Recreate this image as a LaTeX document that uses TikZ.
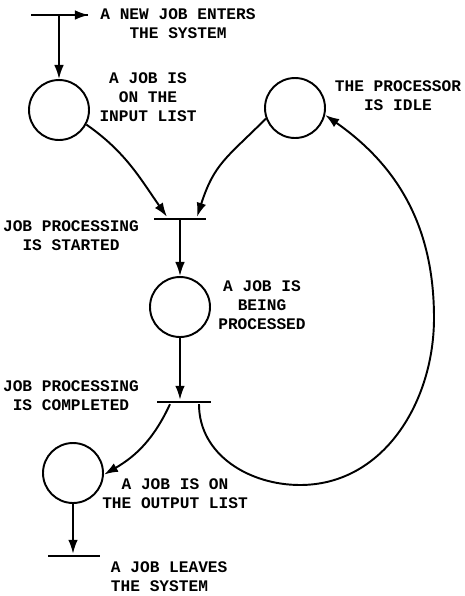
\documentclass[tikz,border=0pt]{standalone}
\usepackage{fontspec}
\setmonofont{Liberation Mono}
\usetikzlibrary{arrows.meta}

\tikzset{
  place/.style={circle, draw, line width=1.1pt, minimum size=1.2cm, inner sep=0pt},
  trans/.style={fill, inner sep=0pt, minimum height=1.4pt, minimum width=#1},
  note/.style={font=\fontsize{9.2}{10.8}\selectfont\ttfamily\bfseries, align=center, inner sep=0pt}
}

\begin{document}
\begin{tikzpicture}[x=0.02cm, y=-0.02cm, >={Latex[length=8pt,width=5.5pt]}, line width=1.1pt]
	\useasboundingbox (0,0) rectangle (465,596);

	% Draw the places
	\node[place] (inlist) at (59,110) {};
	\node[place] (idle) at (295,108) {};
	\node[place] (busy) at (180,307) {};
	\node[place] (outlist) at (73,473) {};

	% Draw the transitions
	\node[trans=1.12cm] (enter) at (60,15) {};
	\node[trans=1.04cm] (start) at (180,219) {};
	\node[trans=1.1cm] (done) at (184,402) {};
	\node[trans=1.04cm] (leave) at (74,556) {};

	% Points the feedback arc passes through
	\coordinate (loopbot) at (300,485);
	\coordinate (loopside) at (434,318);

	% Draw the labels
	\node[note] (enterlbl) at (178,24) {A NEW JOB ENTERS\\THE SYSTEM};
	\node[note] (inlbl) at (148,97) {A JOB IS\\ON THE\\INPUT LIST};
	\node[note] (idlelbl) at (398,96) {THE PROCESSOR\\IS IDLE};
	\node[note] (startlbl) at (71,236) {JOB PROCESSING\\IS STARTED};
	\node[note] (busylbl) at (262,305) {A JOB IS\\BEING\\PROCESSED};
	\node[note] (donelbl) at (71,396) {JOB PROCESSING\\IS COMPLETED};
	\node[note] (outlbl) at (175,494) {A JOB IS ON\\THE OUTPUT LIST};
	\node[note, align=left, anchor=west] (leavelbl) at (110,577) {A JOB LEAVES\\THE SYSTEM};

	% Draw the arcs
	\draw[->] (enter.west) -- (enter.east);
	\draw[->] (inlist |- enter) -- (inlist.north);
	\draw[->] (inlist.-28) to[out=-35, in=125] ([xshift=-0.26cm]start.north);
	\draw[->] (idle.-160) to[out=-135, in=72, looseness=1.2] ([xshift=0.34cm]start.north);
	\draw[->] (start.center) -- (busy.north);
	\draw[->] (busy.south) -- (busy.south |- done.north);
	\draw[->] ([xshift=-0.28cm]done.south) to[out=-115, in=30] (outlist.-3);
	\draw[->] (outlist.south) -- (outlist.south |- leave.north);

	% Draw the return arc to the idle processor
	\draw[->] ([xshift=0.3cm]done.south) to[out=-90, in=180] (loopbot)
		to[out=0, in=-90] (loopside) to[out=90, in=-35] (idle.-13);
\end{tikzpicture}
\end{document}
